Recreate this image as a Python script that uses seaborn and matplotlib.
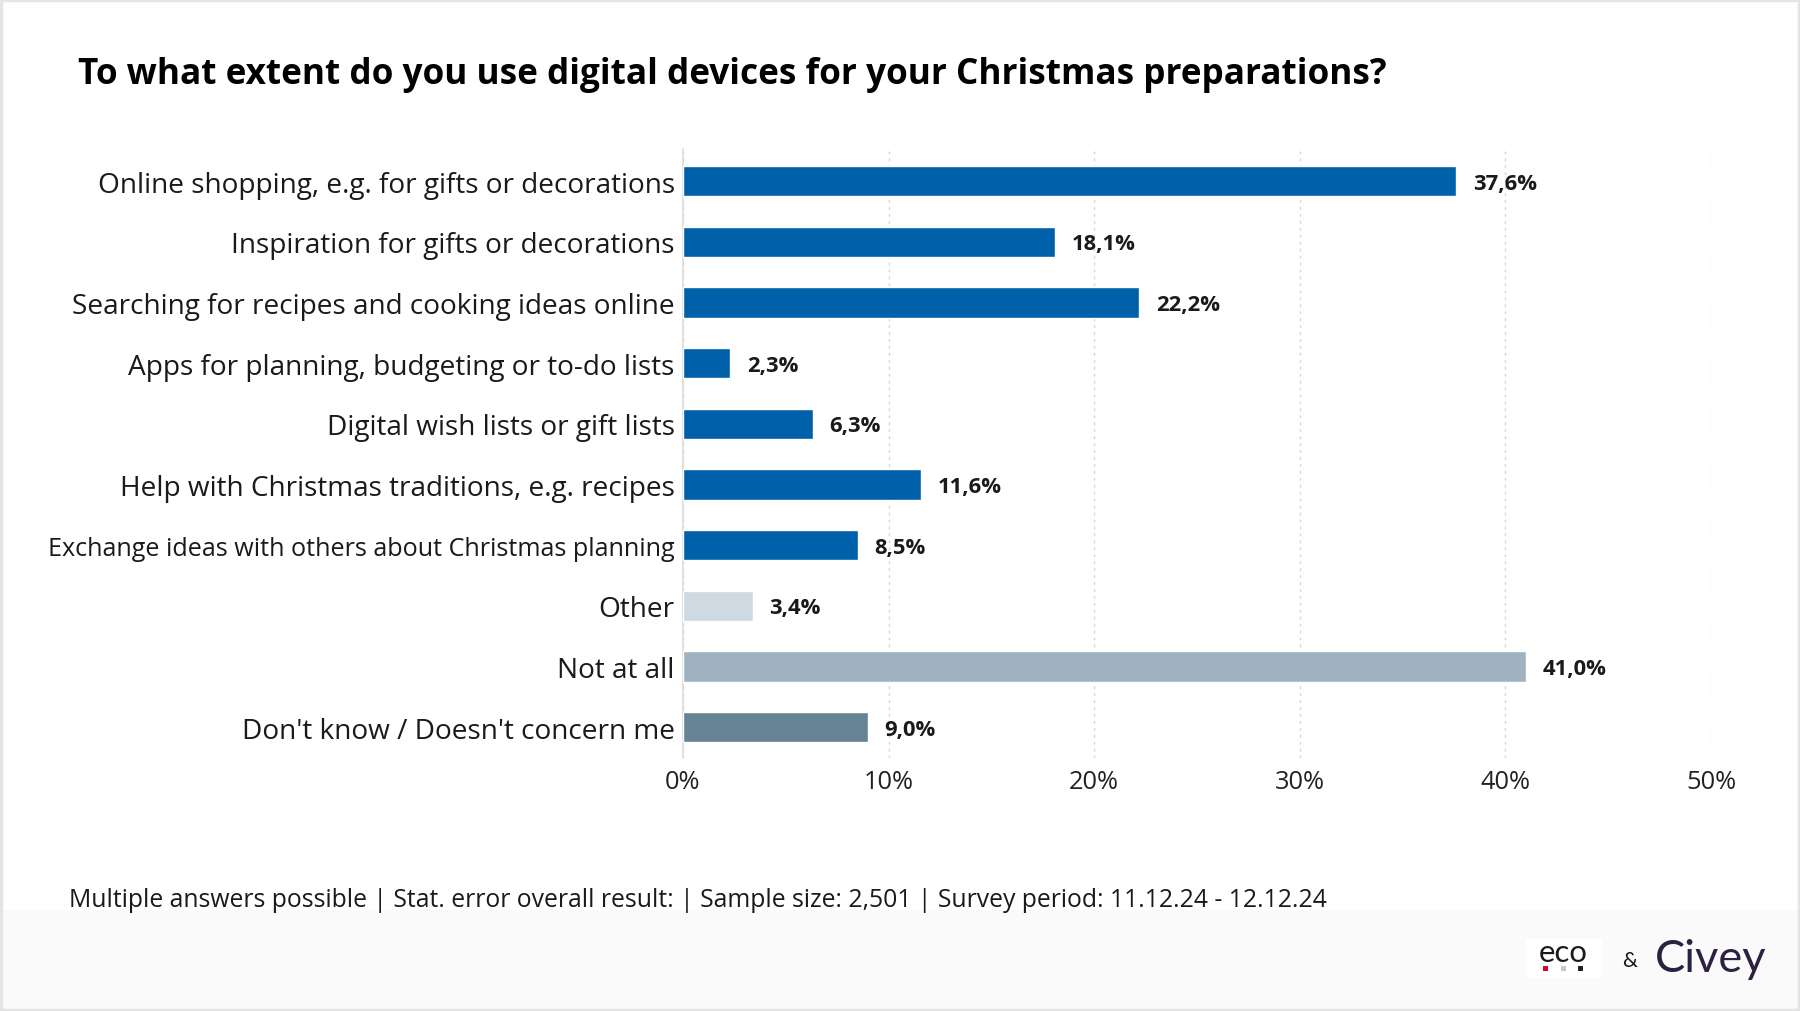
import matplotlib
matplotlib.use("Agg")
import matplotlib.pyplot as plt
import seaborn as sns
import pandas as pd
from matplotlib.patches import Rectangle

# ---------------- data ----------------
categories = [
    "Online shopping, e.g. for gifts or decorations",
    "Inspiration for gifts or decorations",
    "Searching for recipes and cooking ideas online",
    "Apps for planning, budgeting or to-do lists",
    "Digital wish lists or gift lists",
    "Help with Christmas traditions, e.g. recipes",
    "Exchange ideas with others about Christmas planning",
    "Other",
    "Not at all",
    "Don't know / Doesn't concern me",
]
values = [37.6, 18.1, 22.2, 2.3, 6.3, 11.6, 8.5, 3.4, 41.0, 9.0]
value_labels = ["37,6%", "18,1%", "22,2%", "2,3%", "6,3%", "11,6%", "8,5%", "3,4%", "41,0%", "9,0%"]
bar_colors = ["#0060a9"] * 7 + ["#cfd9e1", "#9fb2c0", "#658394"]
xticks = [0, 10, 20, 30, 40, 50]
xtick_labels = ["0%", "10%", "20%", "30%", "40%", "50%"]
title = "To what extent do you use digital devices for your Christmas preparations?"
footnote = "Multiple answers possible | Stat. error overall result: | Sample size: 2,501 | Survey period: 11.12.24 - 12.12.24"

# ---------------- style ----------------
sns.set_theme(style="white")
plt.rcParams['font.family'] = ['Open Sans', 'DejaVu Sans']

W, H = 1800, 1012
fig = plt.figure(figsize=(W / 100, H / 100), dpi=100)
fig.patch.set_facecolor("white")
renderer = fig.canvas.get_renderer()


def fit_size(text, target_px, weight="normal", family=None, base=20.0):
    kw = dict(fontsize=base, fontweight=weight)
    if family:
        kw["family"] = family
    t = fig.text(0, 0, text, **kw)
    w = t.get_window_extent(renderer).width
    t.remove()
    return base * target_px / w


# background band & border
fig.add_artist(Rectangle((0, 0), 1, 1 - 911 / H, transform=fig.transFigure,
                         facecolor="#fafafa", edgecolor="none", zorder=0))
fig.add_artist(Rectangle((0.0008, 0.0014), 0.9984, 0.9972, transform=fig.transFigure,
                         facecolor="none", edgecolor="#e4e4e4", lw=2.5, zorder=10))

# ---------------- axes ----------------
ax = fig.add_axes([683 / W, 1 - 759 / H, (1711 - 683) / W, (759 - 150) / H])
ax.set_facecolor("none")
df = pd.DataFrame({"category": categories, "value": values})
sns.barplot(data=df, x="value", y="category", hue="category", palette=bar_colors,
            legend=False, width=0.5, saturation=1, orient="h", ax=ax, zorder=3)

ax.set_xlim(0, 50)
ax.set_ylim(9.51, -0.53)
ax.set_xlabel("")
ax.set_ylabel("")

ax.set_xticks(xticks)
tick_fs = fit_size("50%", 50)
ax.set_xticklabels(xtick_labels, fontsize=tick_fs, color="#222222")
ax.tick_params(axis="x", length=0, pad=8)

lab_fs = fit_size(categories[0], 577)
ax.set_yticks(range(len(categories)))
ax.set_yticklabels(categories, fontsize=lab_fs, color="#1a1a1a")
ax.tick_params(axis="y", length=0, pad=6)
small_fs = fit_size(categories[6], 627)
ax.get_yticklabels()[6].set_fontsize(small_fs)

ax.xaxis.grid(True, linestyle=(0, (2, 3)), color="#d6d6d6", lw=1)
ax.yaxis.grid(False)
ax.set_axisbelow(True)
for s in ["top", "right", "bottom"]:
    ax.spines[s].set_visible(False)
ax.spines["left"].set_color("#dddddd")
ax.spines["left"].set_linewidth(1.2)

val_fs = fit_size("37,6%", 64, weight="bold")
for i, (v, lab) in enumerate(zip(values, value_labels)):
    ax.annotate(lab, xy=(v, i), xytext=(12, -1.5), textcoords="offset points",
                ha="left", va="center", fontsize=val_fs, fontweight="bold", color="#1a1a1a")

# ---------------- texts ----------------
title_fs = fit_size(title, 1309, weight="bold")
fig.text(78 / W, 1 - 75 / H, title, fontsize=title_fs, fontweight="bold",
         color="#000000", ha="left", va="center")

foot_fs = fit_size(footnote, 1254)
fig.text(69 / W, 1 - 901 / H, footnote, fontsize=foot_fs, color="#1a1a1a",
         ha="left", va="center")

# ---------------- logos ----------------
fig.add_artist(Rectangle((1526 / W, 1 - 979 / H), 76 / W, 39 / H, transform=fig.transFigure,
                         facecolor="white", edgecolor="none", zorder=2))
eco_fs = fit_size("eco", 49, family="Lato")
fig.text(1563.5 / W, 1 - 962 / H, "eco", fontsize=eco_fs, family="Lato", color="#1a1a1a",
         ha="center", va="baseline", zorder=3)
for xc, c in [(1545.5, "#e3001b"), (1563, "#c8c8c8"), (1580.5, "#222222")]:
    fig.add_artist(Rectangle(((xc - 2.5) / W, 1 - 971.5 / H), 5 / W, 5 / H,
                             transform=fig.transFigure, facecolor=c, edgecolor="none", zorder=3))
amp_fs = fit_size("&", 15, family="Lato")
fig.text(1630 / W, 1 - 967 / H, "&", fontsize=amp_fs, family="Lato", color="#1a1a1a",
         ha="center", va="baseline")
civ_fs = fit_size("Civey", 112, family="Lato")
fig.text(1655 / W, 1 - 972 / H, "Civey", fontsize=civ_fs, family="Lato", color="#2c2142",
         ha="left", va="baseline")

fig.savefig("out.png", dpi=100, facecolor="white")
